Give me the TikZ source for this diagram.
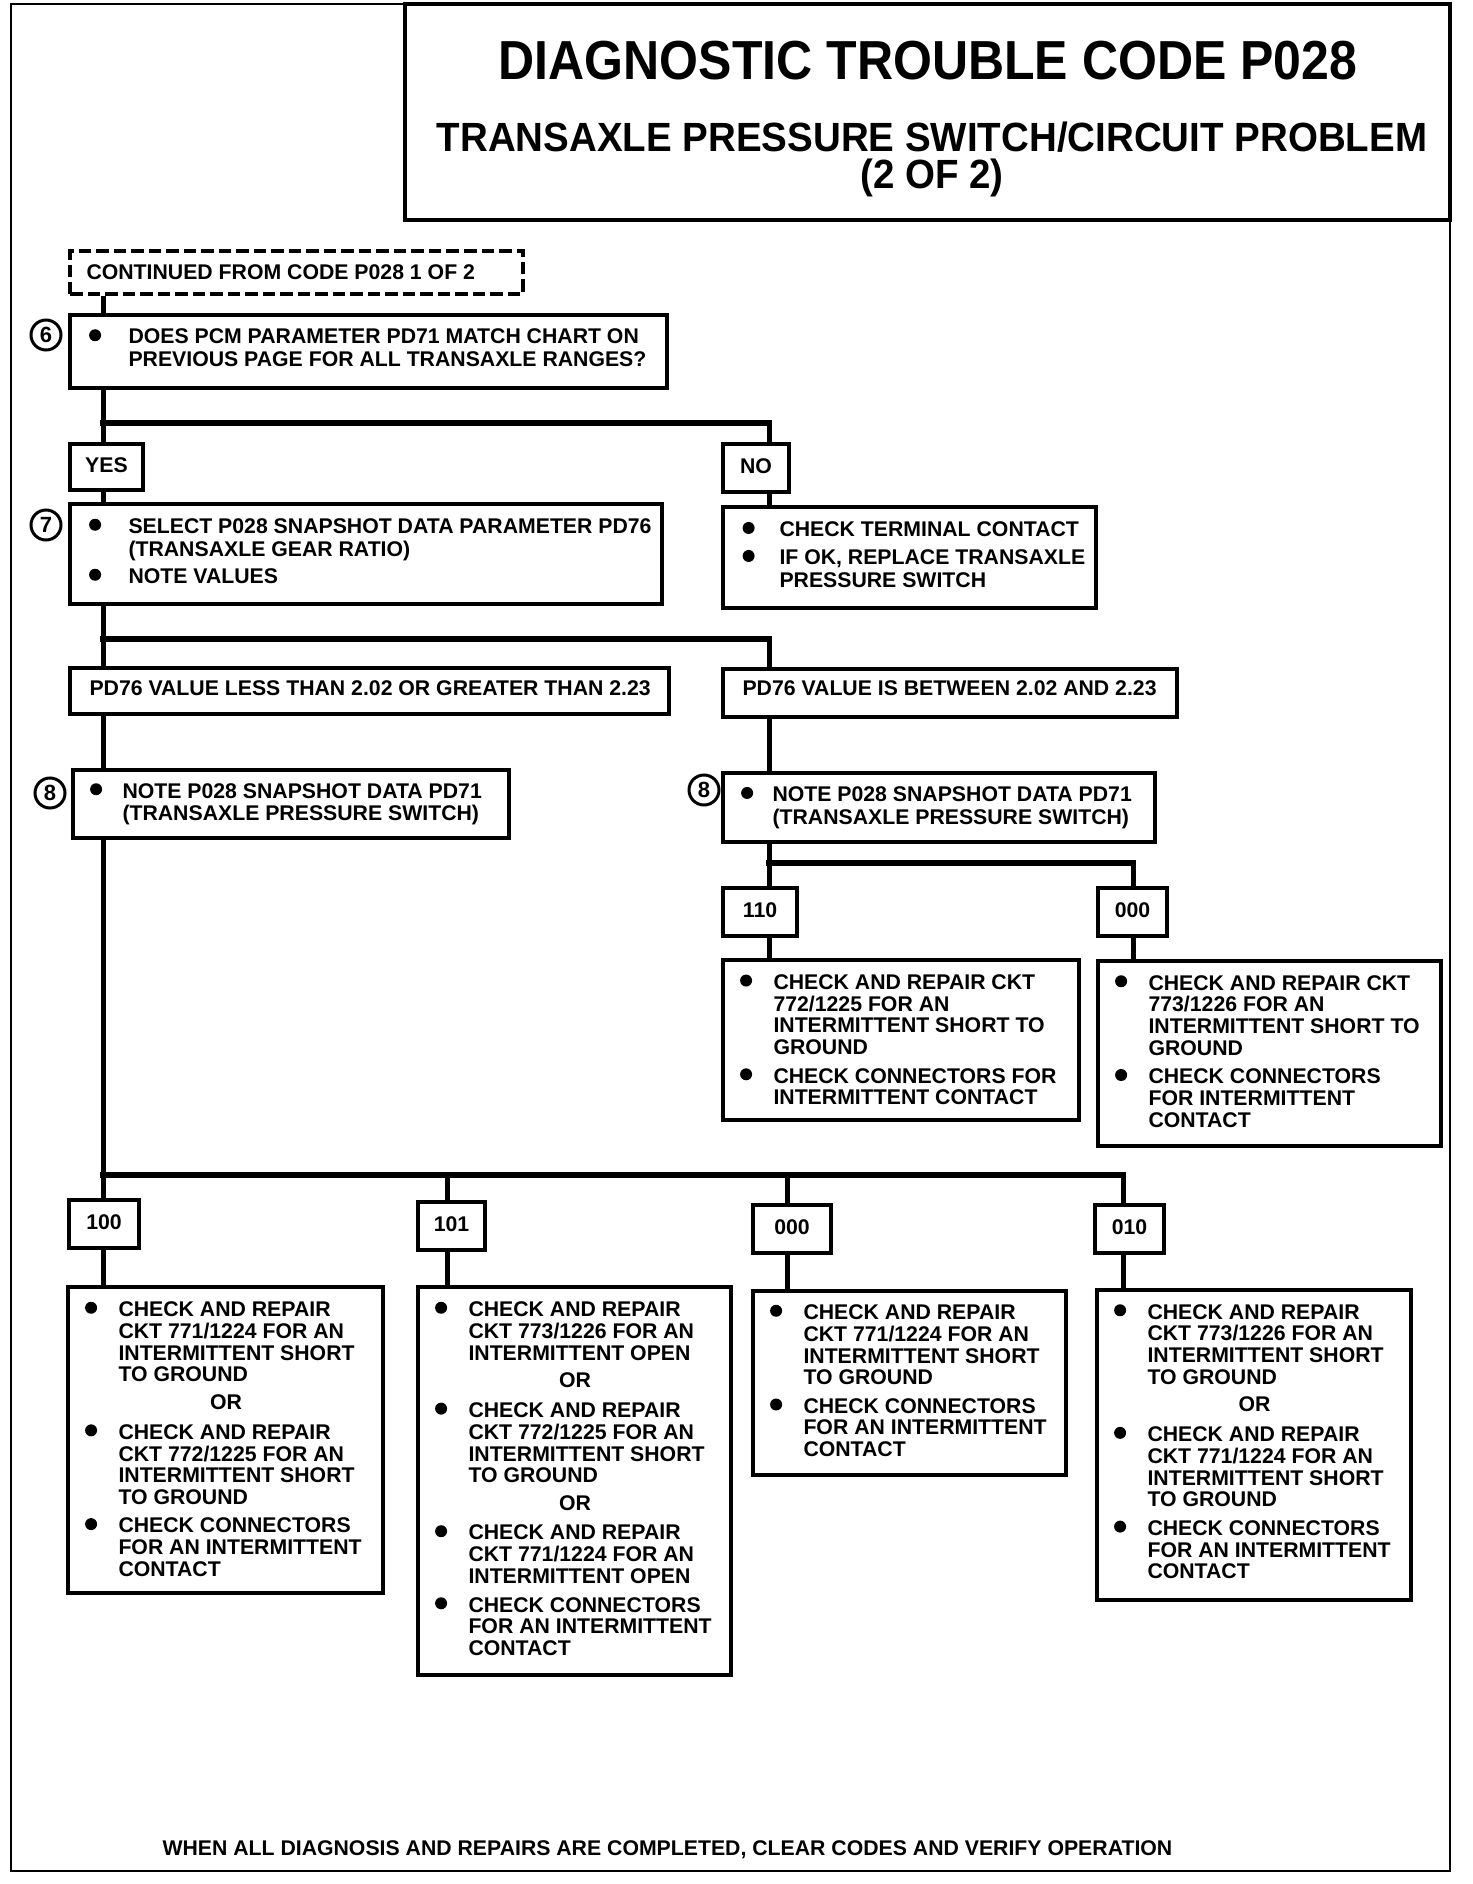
\documentclass[tikz,border=0pt]{standalone}
\usepackage{fontspec}
\usepackage{graphicx}
\setmainfont{Liberation Sans}
\usetikzlibrary{fit}
\newlength\bcol
\setlength\bcol{13.86pt}
\newcommand\blt{\hspace*{0.5pt}\tikz[baseline=0pt]\fill (0pt,3.5pt) circle[radius=2.4pt];}
\newcommand\bul{\makebox[\bcol][l]{\blt}}
\newcommand\ORrow[1]{\multicolumn{2}{@{}l@{}}{\makebox[#1][c]{OR}}}
\begin{document}
\begin{tikzpicture}[x=0.4pt,y=-0.4pt,
  bx/.style={draw, line width=1.4pt, inner sep=0pt},
  labt/.style={anchor=center, inner sep=0pt, font=\bfseries\fontsize{8.5pt}{9pt}\selectfont, text height=6.1pt, text depth=0pt},
  lowt/.style={anchor=base west, inner sep=0pt, font=\bfseries\fontsize{8.5pt}{8.68pt}\selectfont},
  upt/.style={anchor=base west, inner sep=0pt, font=\bfseries\fontsize{8.5pt}{9pt}\selectfont},
  onel/.style={anchor=base west, inner sep=0pt, font=\bfseries\fontsize{8.5pt}{9pt}\selectfont},
  vl/.style={line width=2pt},
  hl/.style={line width=2.4pt, line cap=rect},
  circ/.style={draw, circle, line width=1.2pt, minimum size=12pt, inner sep=0pt, font=\bfseries\fontsize{8.8pt}{9pt}\selectfont}]
\useasboundingbox (0,0) rectangle (1472,1884);
\fill[white] (0,0) rectangle (1472,1884);
% frame and title
\draw[line width=1.1pt] (11,4) rectangle (1450,1871);
\node[draw, line width=1.5pt, inner sep=0pt, fit={(405,4) (1450,220)}] (tbox) {};
\node[anchor=base, inner sep=0pt, font=\bfseries\fontsize{20pt}{24pt}\selectfont] (t1) at (928,80) {\scalebox{1}[1.1]{DIAGNOSTIC TROUBLE CODE P028}};
\node[anchor=base, inner sep=0pt, font=\bfseries\fontsize{15.4pt}{18pt}\selectfont] (t2) at (932,152) {\scalebox{1}[1.06]{TRANSAXLE PRESSURE SWITCH/CIRCUIT PROBLEM}};
\node[anchor=base, inner sep=0pt, font=\bfseries\fontsize{15.4pt}{18pt}\selectfont] (t3) at (932,189) {\scalebox{1}[1.06]{(2 OF 2)}};
% coordinates
\coordinate (L) at (103,0); \coordinate (R) at (769,0); \coordinate (RR) at (1133,0);
\coordinate (B2) at (447,0); \coordinate (B3) at (787,0); \coordinate (B4) at (1123,0);
\coordinate (J1) at (0,423.5); \coordinate (J2) at (0,639); \coordinate (J3) at (0,863); \coordinate (J4) at (0,1175);
% boxes
\node[bx, line width=1.3pt, dash pattern=on 5pt off 2pt, fit={(70,251) (523,294)}] (cont) {};
\node[onel] (tcont) at (86,280) {CONTINUED FROM CODE P028 1 OF 2};
\node[bx, fit={(70,315) (667,388)}] (b6) {};
\node[circ] (c6) at (46,335) {6};
\node[upt] (t6) at (87.35,344) {\setlength\bcol{16.26pt}\begin{tabular}[t]{@{}l@{}l@{}}
\bul & DOES PCM PARAMETER PD71 MATCH CHART ON\\
 & PREVIOUS PAGE FOR ALL TRANSAXLE RANGES?\end{tabular}};
\node[bx, fit={(70,444) (143,490)}] (yes) {};
\node[labt] (yest) at ([yshift=0.8pt]yes.center) {YES};
\node[bx, fit={(723,444) (789,492)}] (no) {};
\node[labt] (not) at ([yshift=0.8pt]no.center) {NO};
\node[bx, fit={(70,504) (662,604)}] (b7) {};
\node[circ] (c7) at (46,525) {7};
\node[upt] (t7) at (87.35,533.5) {\setlength\bcol{16.26pt}\begin{tabular}[t]{@{}l@{}l@{}}
\bul & SELECT P028 SNAPSHOT DATA PARAMETER PD76\\
 & (TRANSAXLE GEAR RATIO)\\[2pt]
\bul & NOTE VALUES\end{tabular}};
\node[bx, fit={(723,507) (1096,608)}] (noa) {};
\node[upt] (tnoa) at (740.85,536.7) {\setlength\bcol{15.26pt}\begin{tabular}[t]{@{}l@{}l@{}}
\bul & CHECK TERMINAL CONTACT\\[2.2pt]
\bul & IF OK, REPLACE TRANSAXLE\\
 & PRESSURE SWITCH\end{tabular}};
\node[bx, fit={(70,668) (669,714)}] (lt) {};
\node[onel] (tlt) at (89,695) {PD76 VALUE LESS THAN 2.02 OR GREATER THAN 2.23};
\node[bx, fit={(723,669) (1177,717)}] (bt) {};
\node[onel] (tbt) at (742,695) {PD76 VALUE IS BETWEEN 2.02 AND 2.23};
\node[bx, fit={(73,770) (509,838)}] (b8l) {};
\node[circ] (c8l) at (50,793) {8};
\node[upt] (t8l) at (88.35,798) {\setlength\bcol{13.46pt}\begin{tabular}[t]{@{}l@{}l@{}}
\bul & NOTE P028 SNAPSHOT DATA PD71\\
 & (TRANSAXLE PRESSURE SWITCH)\end{tabular}};
\node[bx, fit={(723,773) (1155,842)}] (b8r) {};
\node[circ] (c8r) at (704,790) {8};
\node[upt] (t8r) at (739.35,801.7) {\setlength\bcol{13.06pt}\begin{tabular}[t]{@{}l@{}l@{}}
\bul & NOTE P028 SNAPSHOT DATA PD71\\
 & (TRANSAXLE PRESSURE SWITCH)\end{tabular}};
\node[bx, fit={(723,888) (797,936)}] (l110) {};
\node[labt] (l110t) at ([yshift=0.8pt]l110.center) {110};
\node[bx, fit={(1098,888) (1167,936)}] (l000a) {};
\node[labt] (l000at) at ([yshift=0.8pt]l000a.center) {000};
\node[bx, fit={(723,960) (1079,1120)}] (a110) {};
\node[lowt] (t110) at (738.35,989.3) {\begin{tabular}[t]{@{}l@{}l@{}}
\bul & CHECK AND REPAIR CKT\\
 & 772/1225 FOR AN\\
 & INTERMITTENT SHORT TO\\
 & GROUND\\[2.7pt]
\bul & CHECK CONNECTORS FOR\\
 & INTERMITTENT CONTACT\end{tabular}};
\node[bx, fit={(1098,961) (1441,1146)}] (a000a) {};
\node[lowt] (t000a) at (1113.35,990) {\begin{tabular}[t]{@{}l@{}l@{}}
\bul & CHECK AND REPAIR CKT\\
 & 773/1226 FOR AN\\
 & INTERMITTENT SHORT TO\\
 & GROUND\\[2.7pt]
\bul & CHECK CONNECTORS\\
 & FOR INTERMITTENT\\
 & CONTACT\end{tabular}};
\node[bx, fit={(69,1200) (139,1248)}] (l100) {};
\node[labt] (l100t) at ([yshift=0.8pt]l100.center) {100};
\node[bx, fit={(418,1202) (485,1250)}] (l101) {};
\node[labt] (l101t) at ([yshift=0.8pt]l101.center) {101};
\node[bx, fit={(753,1205) (831,1253)}] (l000b) {};
\node[labt] (l000bt) at ([yshift=0.8pt]l000b.center) {000};
\node[bx, fit={(1095,1205) (1164,1253)}] (l010) {};
\node[labt] (l010t) at ([yshift=0.8pt]l010.center) {010};
\node[bx, fit={(68,1287) (383,1593)}] (a100) {};
\node[lowt] (t100) at (83.35,1316.5) {\begin{tabular}[t]{@{}l@{}l@{}}
\bul & CHECK AND REPAIR\\
 & CKT 771/1224 FOR AN\\
 & INTERMITTENT SHORT\\
 & TO GROUND\\[2.25pt]
\ORrow{113.7pt}\\[3.3pt]
\bul & CHECK AND REPAIR\\
 & CKT 772/1225 FOR AN\\
 & INTERMITTENT SHORT\\
 & TO GROUND\\[2.7pt]
\bul & CHECK CONNECTORS\\
 & FOR AN INTERMITTENT\\
 & CONTACT\end{tabular}};
\node[bx, fit={(418,1287) (731,1675)}] (a101) {};
\node[lowt] (t101) at (433.35,1316.5) {\begin{tabular}[t]{@{}l@{}l@{}}
\bul & CHECK AND REPAIR\\
 & CKT 773/1226 FOR AN\\
 & INTERMITTENT OPEN\\[2.25pt]
\ORrow{112.9pt}\\[3.3pt]
\bul & CHECK AND REPAIR\\
 & CKT 772/1225 FOR AN\\
 & INTERMITTENT SHORT\\
 & TO GROUND\\[2.25pt]
\ORrow{112.9pt}\\[3.3pt]
\bul & CHECK AND REPAIR\\
 & CKT 771/1224 FOR AN\\
 & INTERMITTENT OPEN\\[2.7pt]
\bul & CHECK CONNECTORS\\
 & FOR AN INTERMITTENT\\
 & CONTACT\end{tabular}};
\node[bx, fit={(753,1291) (1066,1475)}] (a000b) {};
\node[lowt] (t000b) at (768.35,1319.5) {\begin{tabular}[t]{@{}l@{}l@{}}
\bul & CHECK AND REPAIR\\
 & CKT 771/1224 FOR AN\\
 & INTERMITTENT SHORT\\
 & TO GROUND\\[2.7pt]
\bul & CHECK CONNECTORS\\
 & FOR AN INTERMITTENT\\
 & CONTACT\end{tabular}};
\node[bx, fit={(1097,1290) (1411,1600)}] (a010) {};
\node[lowt] (t010) at (1112.35,1319) {\begin{tabular}[t]{@{}l@{}l@{}}
\bul & CHECK AND REPAIR\\
 & CKT 773/1226 FOR AN\\
 & INTERMITTENT SHORT\\
 & TO GROUND\\[2.25pt]
\ORrow{113.3pt}\\[3.3pt]
\bul & CHECK AND REPAIR\\
 & CKT 771/1224 FOR AN\\
 & INTERMITTENT SHORT\\
 & TO GROUND\\[2.7pt]
\bul & CHECK CONNECTORS\\
 & FOR AN INTERMITTENT\\
 & CONTACT\end{tabular}};
\node[onel] (foot) at (162,1855) {WHEN ALL DIAGNOSIS AND REPAIRS ARE COMPLETED, CLEAR CODES AND VERIFY OPERATION};
% connectors
\draw[vl] (cont.south -| L) -- (b6.north -| L);
\draw[vl] (b6.south -| L) -- (yes.north -| L);
\draw[hl] (J1 -| L) -- (J1 -| R);
\draw[vl] (J1 -| R) -- (no.north -| R);
\draw[vl] (yes.south -| L) -- (b7.north -| L);
\draw[vl] (no.south -| R) -- (noa.north -| R);
\draw[vl] (b7.south -| L) -- (lt.north -| L);
\draw[hl] (J2 -| L) -- (J2 -| R);
\draw[vl] (J2 -| R) -- (bt.north -| R);
\draw[vl] (lt.south -| L) -- (b8l.north -| L);
\draw[vl] (bt.south -| R) -- (b8r.north -| R);
\draw[vl] (b8r.south -| R) -- (l110.north -| R);
\draw[hl] (J3 -| R) -- (J3 -| RR);
\draw[vl] (J3 -| RR) -- (l000a.north -| RR);
\draw[vl] (l110.south -| R) -- (a110.north -| R);
\draw[vl] (l000a.south -| RR) -- (a000a.north -| RR);
\draw[vl] (b8l.south -| L) -- (l100.north -| L);
\draw[hl] (J4 -| L) -- (J4 -| B4);
\draw[vl] (J4 -| B2) -- (l101.north -| B2);
\draw[vl] (J4 -| B3) -- (l000b.north -| B3);
\draw[vl] (J4 -| B4) -- (l010.north -| B4);
\draw[vl] (l100.south -| L) -- (a100.north -| L);
\draw[vl] (l101.south -| B2) -- (a101.north -| B2);
\draw[vl] (l000b.south -| B3) -- (a000b.north -| B3);
\draw[vl] (l010.south -| B4) -- (a010.north -| B4);
\end{tikzpicture}
\end{document}
